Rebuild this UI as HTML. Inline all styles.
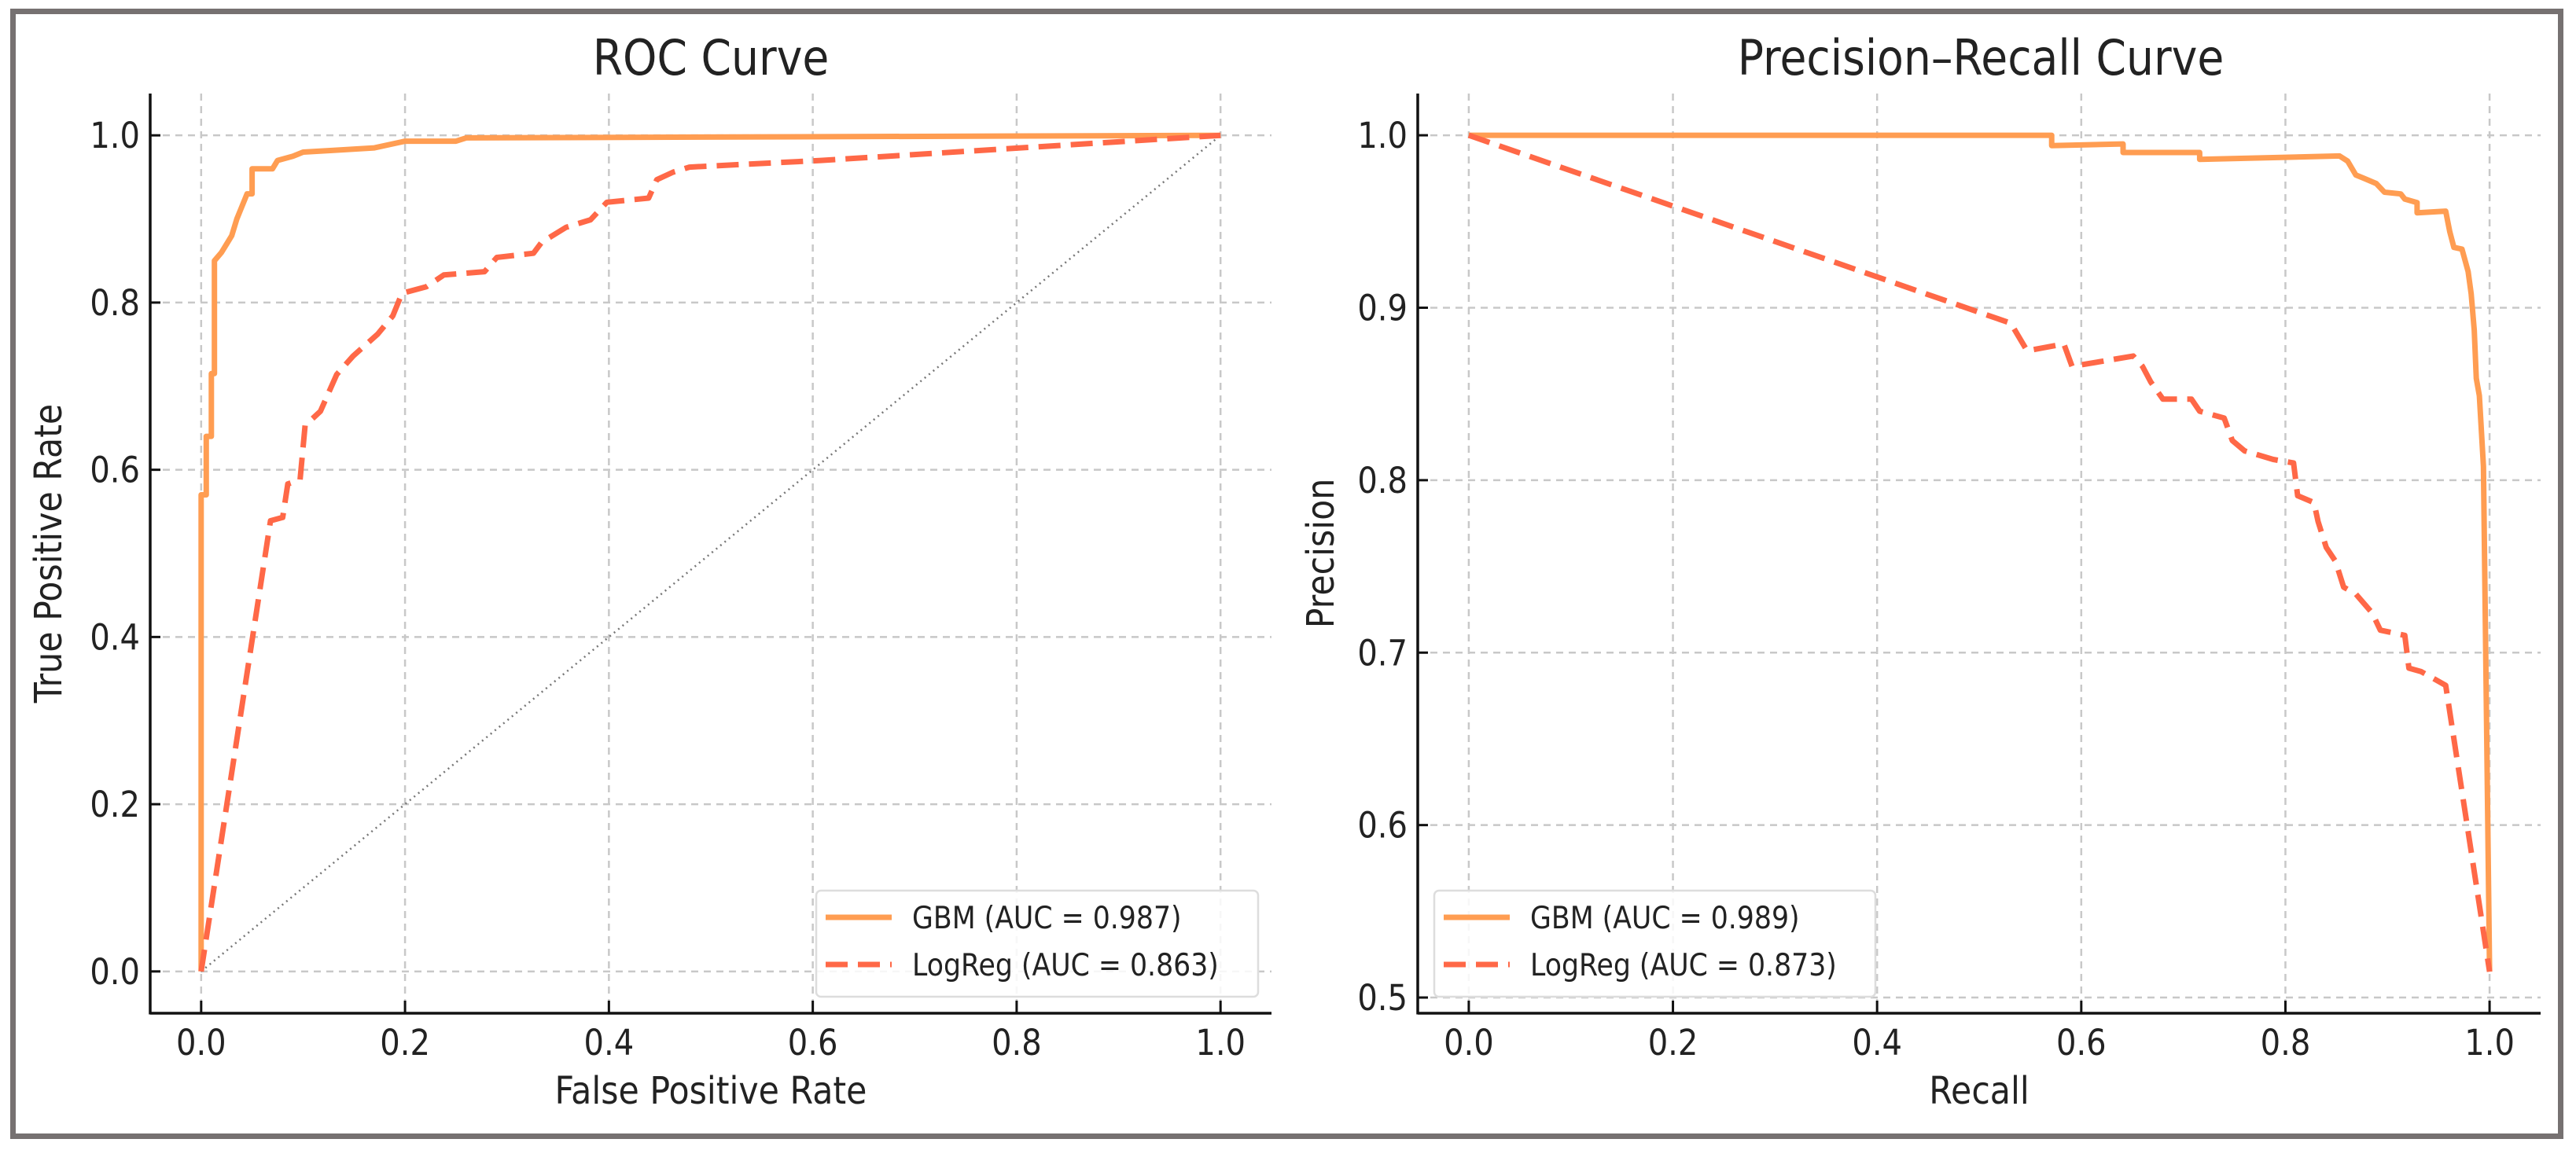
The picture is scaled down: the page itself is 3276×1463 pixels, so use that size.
<!DOCTYPE html>
<html><head><meta charset="utf-8">
<style>
html,body{margin:0;padding:0;background:#fff;}
svg{display:block;}
text{font-family:"DejaVu Sans","Liberation Sans",sans-serif;fill:#222;}
</style></head>
<body>
<svg id="fig" width="3276" height="1463" viewBox="0 0 3276 1463" xmlns="http://www.w3.org/2000/svg">
<rect x="16.5" y="14.5" width="3240" height="1431" fill="#fff" stroke="#767171" stroke-width="7"/>
</svg>
<script>
// ---- ROC data ----
const rocTicksX = [0, 0.2, 0.4, 0.6, 0.8, 1.0];
const rocTicksY = [0, 0.2, 0.4, 0.6, 0.8, 1.0];
const rocTickLabelsX = ["0.0","0.2","0.4","0.6","0.8","1.0"];
const rocTickLabelsY = ["0.0","0.2","0.4","0.6","0.8","1.0"];
const rocGbmFpr = [0,0,0.005,0.005,0.01,0.01,0.013,0.013,0.02,0.025,0.03,0.035,0.04,0.045,0.05,0.05,0.07,0.075,0.09,0.1,0.13,0.17,0.2,0.25,0.26,1];
const rocGbmTpr = [0,0.57,0.57,0.64,0.64,0.715,0.715,0.85,0.86,0.87,0.88,0.9,0.915,0.93,0.93,0.96,0.96,0.97,0.975,0.98,0.982,0.985,0.993,0.993,0.997,1];
const rocLrFpr = [0,0.068,0.08,0.085,0.097,0.102,0.117,0.133,0.149,0.173,0.188,0.197,0.221,0.238,0.278,0.29,0.326,0.334,0.358,0.382,0.398,0.439,0.447,0.463,0.479,0.608,1];
const rocLrTpr = [0,0.539,0.543,0.583,0.588,0.653,0.670,0.714,0.736,0.762,0.784,0.811,0.819,0.833,0.837,0.854,0.859,0.872,0.890,0.899,0.920,0.925,0.947,0.956,0.962,0.970,1];
const rocLegend = ["GBM (AUC = 0.987)","LogReg (AUC = 0.863)"];
// ---- PR data ----
const prTicksX = [0, 0.2, 0.4, 0.6, 0.8, 1.0];
const prTicksY = [0.5, 0.6, 0.7, 0.8, 0.9, 1.0];
const prTickLabelsX = ["0.0","0.2","0.4","0.6","0.8","1.0"];
const prTickLabelsY = ["0.5","0.6","0.7","0.8","0.9","1.0"];
const prGbmRecall = [0,0.571,0.571,0.641,0.641,0.716,0.716,0.853,0.861,0.869,0.877,0.889,0.897,0.913,0.917,0.929,0.929,0.957,0.961,0.965,0.973,0.979,0.982,0.985,0.987,0.99,0.994,1];
const prGbmPrec = [1,1,0.994,0.995,0.990,0.990,0.986,0.988,0.985,0.977,0.975,0.972,0.967,0.966,0.963,0.961,0.955,0.956,0.944,0.935,0.934,0.921,0.908,0.887,0.859,0.849,0.808,0.515];
const prLrRecall = [0,0.531,0.539,0.547,0.583,0.591,0.651,0.66,0.668,0.68,0.708,0.716,0.74,0.748,0.76,0.788,0.808,0.812,0.828,0.832,0.84,0.849,0.857,0.869,0.885,0.893,0.917,0.921,0.933,0.957,1];
const prLrPrec = [1,0.891,0.883,0.875,0.879,0.866,0.872,0.866,0.857,0.847,0.847,0.84,0.836,0.823,0.817,0.812,0.81,0.791,0.787,0.776,0.761,0.753,0.738,0.734,0.723,0.713,0.71,0.691,0.689,0.681,0.515];
const prLegend = ["GBM (AUC = 0.989)","LogReg (AUC = 0.873)"];

const NS = "http://www.w3.org/2000/svg";
const svg = document.getElementById('fig');
const ORANGE = "#ff9d52", RED = "#ff6847";
function mk(tag, attrs, parent){const e=document.createElementNS(NS,tag);for(const k in attrs)e.setAttribute(k,attrs[k]);(parent||svg).appendChild(e);return e;}
function txt(parent,s,x,y,size,anchor,rot){
  const t=mk('text',{x:0,y:0,'font-size':size,'text-anchor':anchor,transform:`translate(${x},${y})${rot?' rotate(-90)':''} scale(0.89,1)`},parent);
  t.textContent=s;return t;}

function panel(o){
  const g=mk('g',{});
  
  
  const sx=v=>o.L+(v-o.xd[0])/(o.xd[1]-o.xd[0])*(o.R-o.L);
  const sy=v=>o.B-(v-o.yd[0])/(o.yd[1]-o.yd[0])*(o.B-o.T);
  // grid
  o.tx.forEach((v,i)=>{
    const l=mk('line',{x1:sx(v),x2:sx(v),y1:o.T,y2:o.B,stroke:'#c8c8c8','stroke-width':2.5,'stroke-dasharray':'9,7'},g);
    
    
    const tk=mk('line',{x1:sx(v),x2:sx(v),y1:o.B,y2:o.B-16,stroke:'#111','stroke-width':3},g);
    
    
    const t=txt(g,o.txl[i],sx(v),o.B+53,45,'middle');
    
    
  });
  o.ty.forEach((v,i)=>{
    const l=mk('line',{x1:o.L,x2:o.R,y1:sy(v),y2:sy(v),stroke:'#c8c8c8','stroke-width':2.5,'stroke-dasharray':'9,7'},g);
    
    
    const tk=mk('line',{x1:o.L,x2:o.L+13,y1:sy(v),y2:sy(v),stroke:'#111','stroke-width':3},g);
    
    
    const t=txt(g,o.tyl[i],o.L-13,sy(v)+16,45,'end');
    
    
  });
  if(o.diag){
    const d=mk('line',{x1:sx(0),y1:sy(0),x2:sx(1),y2:sy(1),stroke:'#777','stroke-width':2.5,'stroke-dasharray':'2,5'},g);
    
    
  }
  o.series.forEach(s=>{
    const pts=s.x.map((v,i)=>sx(v).toFixed(1)+','+sy(s.y[i]).toFixed(1)).join(' ');
    const p=mk('polyline',{points:pts,fill:'none',stroke:s.c,'stroke-width':7,'stroke-linejoin':'round','stroke-dasharray':s.dash||'none'},g);
    
    
  });
  // spines
  const sl=mk('line',{x1:o.L,x2:o.L,y1:o.T,y2:o.B+1.5,stroke:'#111','stroke-width':3.5},g);
  
  
  const sb=mk('line',{x1:o.L,x2:o.R,y1:o.B,y2:o.B,stroke:'#111','stroke-width':3.5},g);
  
  
  const tt=txt(g,o.title,o.tcx,95,62,'middle');
  
  
  const xl=txt(g,o.xlab,(o.L+o.R)/2,1404,48,'middle');
  
  
  const yl=txt(g,o.ylab,o.ylx,(o.T+o.B)/2,48,'middle',true);
  
  
  // legend
  const lg=mk('g',{},g);
  
  
  mk('rect',{x:o.lx,y:1133,width:o.lw,height:135,rx:6,fill:'rgba(255,255,255,0.85)',stroke:'#ddd','stroke-width':2.5},lg);
  o.leg.forEach((s,i)=>{
    const y=1167+i*60;
    const e=mk('g',{},lg);
    
    
    mk('line',{x1:o.lx+12,x2:o.lx+96,y1:y,y2:y,stroke:o.series[i].c,'stroke-width':7,'stroke-dasharray':o.series[i].dash||'none'},e);
    txt(e,s,o.lx+122,y+14,39,'start');
  });
}

panel({name:'roc-chart',L:191,R:1617,T:119,B:1289,xd:[-0.05,1.05],yd:[-0.05,1.05],
  tx:rocTicksX,ty:rocTicksY,txl:rocTickLabelsX,tyl:rocTickLabelsY,diag:true,
  title:'ROC Curve',tcx:904,xlab:'False Positive Rate',ylab:'True Positive Rate',ylx:78,
  lx:1038,lw:562,leg:rocLegend,
  series:[{name:'gbm-roc-line',x:rocGbmFpr,y:rocGbmTpr,c:ORANGE},{name:'logreg-roc-line',x:rocLrFpr,y:rocLrTpr,c:RED,dash:'28,13'}]});
panel({name:'pr-chart',L:1803,R:3231,T:119,B:1289,xd:[-0.05,1.05],yd:[0.4909,1.0242],
  tx:prTicksX,ty:prTicksY,txl:prTickLabelsX,tyl:prTickLabelsY,diag:false,
  title:'Precision–Recall Curve',tcx:2519,xlab:'Recall',ylab:'Precision',ylx:1696,
  lx:1824,lw:561,leg:prLegend,
  series:[{name:'gbm-pr-line',x:prGbmRecall,y:prGbmPrec,c:ORANGE},{name:'logreg-pr-line',x:prLrRecall,y:prLrPrec,c:RED,dash:'28,13'}]});
</script>
</body></html>
